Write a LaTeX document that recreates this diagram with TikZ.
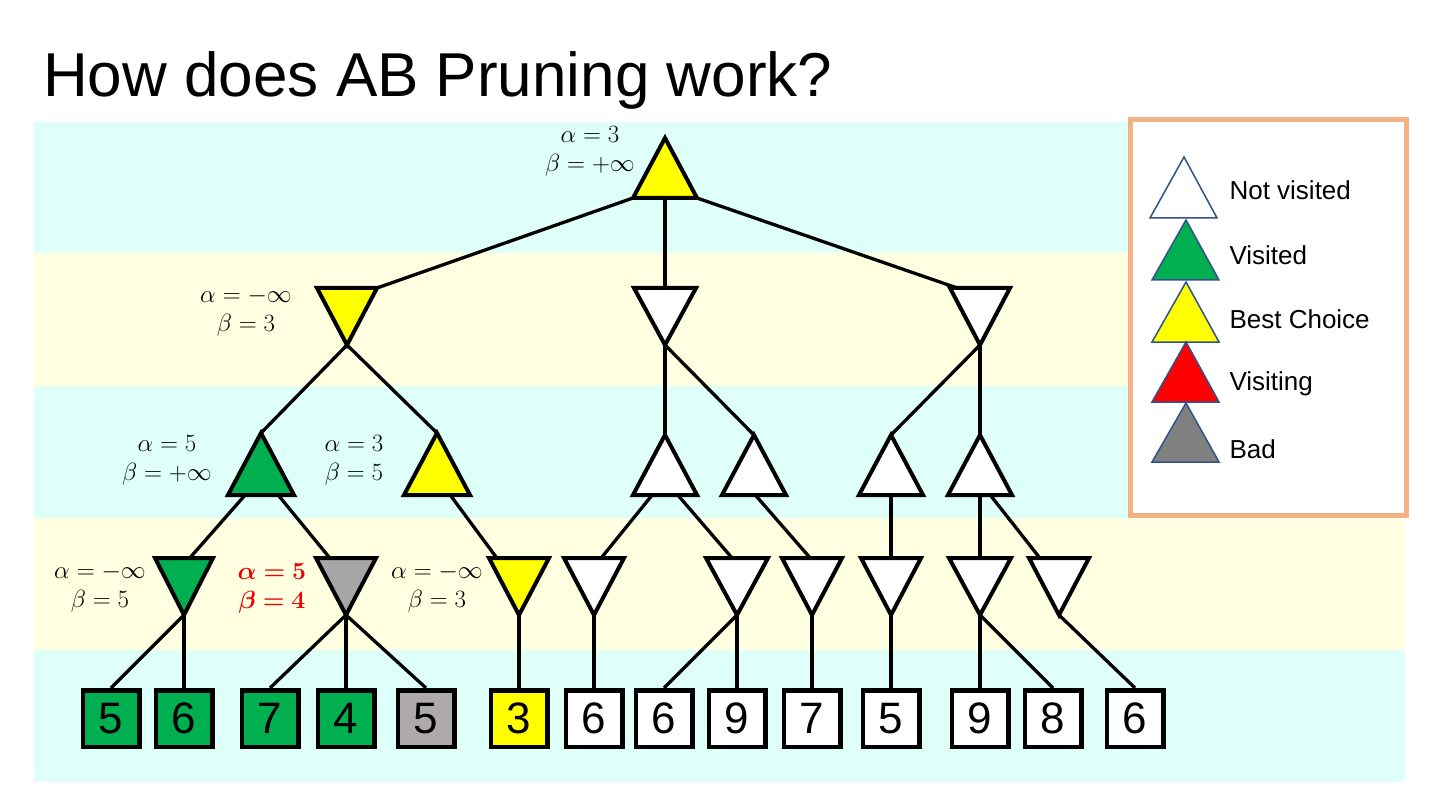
\documentclass[tikz,border=0pt]{standalone}
\usepackage[no-math]{fontspec}
\setmainfont{Liberation Sans}
\usepackage{bm}
\usetikzlibrary{calc}
\definecolor{bandc}{RGB}{223,255,249}
\definecolor{bandy}{RGB}{255,255,225}
\definecolor{vgreen}{RGB}{0,176,80}
\definecolor{vyellow}{RGB}{255,255,0}
\definecolor{vgray}{RGB}{166,166,166}
\definecolor{lgray}{RGB}{174,170,170}
\definecolor{badgray}{RGB}{128,128,128}
\definecolor{lborder}{RGB}{244,177,131}
\definecolor{ledge}{RGB}{47,82,143}
\definecolor{lred}{RGB}{240,0,0}
% up triangle: name, cx, apex y, base y, half width
\newcommand{\UpTri}[5]{\coordinate (#1-a) at (#2,#3); \coordinate (#1-l) at ({#2-#5},#4); \coordinate (#1-r) at ({#2+#5},#4);}
% down triangle: name, cx, top y, apex y, half width
\newcommand{\DnTri}[5]{\coordinate (#1-a) at (#2,#4); \coordinate (#1-l) at ({#2-#5},#3); \coordinate (#1-r) at ({#2+#5},#3);}
\begin{document}
\begin{tikzpicture}[x=1pt,y=-1pt,
  tri/.style={draw=black,line width=4pt,line join=miter},
  conn/.style={draw=black,line width=3.3pt},
  leaf/.style={draw=black,line width=4.5pt,minimum size=56.5pt,inner sep=0pt,font=\fontsize{44}{44}\selectfont},
  ab/.style={align=center,font=\fontsize{27}{29}\selectfont},
  legtri/.style={draw=ledge,line width=1.5pt,line join=miter},
  legtext/.style={anchor=west,font=\fontsize{26}{30}\selectfont}]
\useasboundingbox (0,0) rectangle (1440,810);
\fill[white] (0,0) rectangle (1440,810);
% bands
\fill[bandc] (34,122) rectangle (1405,253);
\fill[bandy] (34,253) rectangle (1405,386);
\fill[bandc] (34,386) rectangle (1405,518);
\fill[bandy] (34,518) rectangle (1405,650);
\fill[bandc] (34,650) rectangle (1405,782);
% title
\node[anchor=base west,inner sep=0pt,font=\fontsize{62}{62}\selectfont] (title) at (43,97) {How does AB Pruning work?};
% legend
\draw[lborder,line width=5pt,fill=white] (1130,120) rectangle (1406,515);
\draw[legtri,fill=white] (1184,157) -- (1150,218) -- (1217,218) -- cycle;
\draw[legtri,fill=vgreen] (1186,220) -- (1152,280) -- (1219,280) -- cycle;
\draw[legtri,fill=vyellow] (1186,282) -- (1152,342) -- (1219,342) -- cycle;
\draw[legtri,fill=red] (1186,342) -- (1152,402) -- (1219,402) -- cycle;
\draw[legtri,fill=badgray] (1186,403) -- (1152,462) -- (1219,462) -- cycle;
\node[legtext] (t1) at (1226,190) {Not visited};
\node[legtext] (t2) at (1226,255) {Visited};
\node[legtext] (t3) at (1226,319) {Best Choice};
\node[legtext] (t4) at (1226,384) {Visiting};
\node[legtext] (t5) at (1226,449) {Bad};
% tree coordinates
\UpTri{R}{665}{138}{198}{32}
\DnTri{A}{347}{288}{345}{30}
\DnTri{B}{665}{288}{345}{31}
\DnTri{C}{980}{288}{345}{30}
\UpTri{G}{261}{433}{495}{33}
\UpTri{Y}{437}{433}{495}{33}
\UpTri{W1}{665}{435}{495}{32}
\UpTri{W2}{754}{435}{495}{32}
\UpTri{W3}{891}{435}{495}{32}
\UpTri{W4}{980}{435}{495}{32}
\DnTri{GD}{184}{558}{615}{29}
\DnTri{GR}{346}{558}{615}{30}
\DnTri{YD}{519}{558}{615}{30}
\DnTri{D1}{594}{558}{615}{30}
\DnTri{D2}{737}{558}{615}{31}
\DnTri{D3}{812}{558}{615}{30}
\DnTri{D4}{891}{558}{615}{30}
\DnTri{D5}{980}{558}{615}{31}
\DnTri{D6}{1059}{558}{615}{30}
% leaves
\node[leaf,fill=vgreen] (n1) at (111,718.5) {5};
\node[leaf,fill=vgreen] (n2) at (184,718.5) {6};
\node[leaf,fill=vgreen] (n3) at (270,718.5) {7};
\node[leaf,fill=vgreen] (n4) at (346,718.5) {4};
\node[leaf,fill=lgray] (n5) at (426,718.5) {5};
\node[leaf,fill=vyellow] (n6) at (519,718.5) {3};
\node[leaf,fill=white] (n7) at (594,718.5) {6};
\node[leaf,fill=white] (n8) at (664,718.5) {6};
\node[leaf,fill=white] (n9) at (737,718.5) {9};
\node[leaf,fill=white] (n10) at (812,718.5) {7};
\node[leaf,fill=white] (n11) at (891,718.5) {5};
\node[leaf,fill=white] (n12) at (980,718.5) {9};
\node[leaf,fill=white] (n13) at (1053,718.5) {8};
\node[leaf,fill=white] (n14) at (1135,718.5) {6};
% connectors: root to level 1
\draw[conn] (R-l) -- (A-r);
\draw[conn] ($(R-l)!0.5!(R-r)$) -- ($(B-l)!0.5!(B-r)$);
\draw[conn] (R-r) -- ($(C-l)!0.12!(C-r)$);
% level 1 to level 2
\draw[conn] (A-a) -- (G-a);
\draw[conn] (A-a) -- (Y-a);
\draw[conn] (B-a) -- (W1-a);
\draw[conn] (B-a) -- (W2-a);
\draw[conn] (C-a) -- (W3-a);
\draw[conn] (C-a) -- (W4-a);
% level 2 to level 3
\draw[conn] ($(G-l)!0.26!(G-r)$) -- ($(GD-l)!0.6!(GD-r)$);
\draw[conn] ($(G-l)!0.76!(G-r)$) -- ($(GR-l)!0.23!(GR-r)$);
\draw[conn] ($(Y-l)!0.7!(Y-r)$) -- ($(YD-l)!0.13!(YD-r)$);
\draw[conn] ($(W1-l)!0.3!(W1-r)$) -- ($(D1-l)!0.62!(D1-r)$);
\draw[conn] ($(W1-l)!0.7!(W1-r)$) -- ($(D2-l)!0.42!(D2-r)$);
\draw[conn] ($(W2-l)!0.52!(W2-r)$) -- ($(D3-l)!0.47!(D3-r)$);
\draw[conn] ($(W3-l)!0.5!(W3-r)$) -- ($(D4-l)!0.5!(D4-r)$);
\draw[conn] ($(W4-l)!0.5!(W4-r)$) -- ($(D5-l)!0.5!(D5-r)$);
\draw[conn] ($(W4-l)!0.66!(W4-r)$) -- ($(D6-l)!0.18!(D6-r)$);
% level 3 to leaves
\draw[conn] (GD-a) -- (n1.north);
\draw[conn] (GD-a) -- (n2.north);
\draw[conn] (GR-a) -- (n3.north);
\draw[conn] (GR-a) -- (n4.north);
\draw[conn] (GR-a) -- (n5.north);
\draw[conn] (YD-a) -- (n6.north);
\draw[conn] (D1-a) -- (n7.north);
\draw[conn] (D2-a) -- (n8.north);
\draw[conn] (D2-a) -- (n9.north);
\draw[conn] (D3-a) -- (n10.north);
\draw[conn] (D4-a) -- (n11.north);
\draw[conn] (D5-a) -- (n12.north);
\draw[conn] (D5-a) -- (n13.north);
\draw[conn] (D6-a) -- (n14.north);
% triangles
\draw[tri,fill=vyellow] (R-a) -- (R-l) -- (R-r) -- cycle;
\draw[tri,fill=vyellow] (A-a) -- (A-l) -- (A-r) -- cycle;
\draw[tri,fill=white] (B-a) -- (B-l) -- (B-r) -- cycle;
\draw[tri,fill=white] (C-a) -- (C-l) -- (C-r) -- cycle;
\draw[tri,fill=vgreen] (G-a) -- (G-l) -- (G-r) -- cycle;
\draw[tri,fill=vyellow] (Y-a) -- (Y-l) -- (Y-r) -- cycle;
\draw[tri,fill=white] (W1-a) -- (W1-l) -- (W1-r) -- cycle;
\draw[tri,fill=white] (W2-a) -- (W2-l) -- (W2-r) -- cycle;
\draw[tri,fill=white] (W3-a) -- (W3-l) -- (W3-r) -- cycle;
\draw[tri,fill=white] (W4-a) -- (W4-l) -- (W4-r) -- cycle;
\draw[tri,fill=vgreen] (GD-a) -- (GD-l) -- (GD-r) -- cycle;
\draw[tri,fill=vgray] (GR-a) -- (GR-l) -- (GR-r) -- cycle;
\draw[tri,fill=vyellow] (YD-a) -- (YD-l) -- (YD-r) -- cycle;
\draw[tri,fill=white] (D1-a) -- (D1-l) -- (D1-r) -- cycle;
\draw[tri,fill=white] (D2-a) -- (D2-l) -- (D2-r) -- cycle;
\draw[tri,fill=white] (D3-a) -- (D3-l) -- (D3-r) -- cycle;
\draw[tri,fill=white] (D4-a) -- (D4-l) -- (D4-r) -- cycle;
\draw[tri,fill=white] (D5-a) -- (D5-l) -- (D5-r) -- cycle;
\draw[tri,fill=white] (D6-a) -- (D6-l) -- (D6-r) -- cycle;
% alpha-beta labels
\node[ab] (lR) at (590,151) {$\alpha = 3$\\$\beta = +\infty$};
\node[ab] (lA) at (246,312) {$\alpha = -\infty$\\$\beta = 3$};
\node[ab] (lG) at (167,460) {$\alpha = 5$\\$\beta = +\infty$};
\node[ab] (lY) at (354,460) {$\alpha = 3$\\$\beta = 5$};
\node[ab] (lGD) at (100,588) {$\alpha = -\infty$\\$\beta = 5$};
\node[ab,text=lred] (lGR) at (272,588) {$\bm{\alpha = 5}$\\$\bm{\beta = 4}$};
\node[ab] (lYD) at (437,588) {$\alpha = -\infty$\\$\beta = 3$};
\end{tikzpicture}
\end{document}
